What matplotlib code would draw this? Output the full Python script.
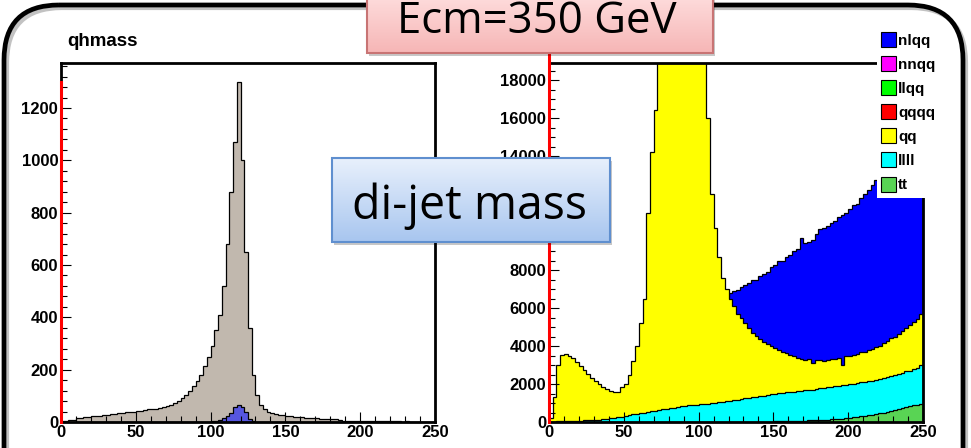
import numpy as np
import matplotlib
matplotlib.use("Agg")
import matplotlib.pyplot as plt
import matplotlib.patches as patches
from matplotlib.colors import LinearSegmentedColormap
from matplotlib.ticker import MultipleLocator

W, H = 971, 448
edges = np.linspace(0, 250, 101)  # 2.5 GeV bins, 0-250

# left pad: qhmass, all events and the small blue component
qh_all = [3, 4, 6, 9, 14, 16, 19, 21, 22, 23,
          24, 26, 27, 30, 32, 33, 35, 37, 39, 40,
          42, 43, 45, 48, 49, 51, 54, 57, 61, 65,
          72, 82, 92, 105, 120, 138, 155, 180, 215, 250,
          290, 350, 410, 520, 680, 880, 1070, 1300, 1000, 650,
          360, 180, 105, 65, 48, 40, 34, 30, 28, 26,
          24, 22, 21, 20, 18, 17, 16, 15, 14, 13,
          12, 12, 11, 10, 7, 5, 4, 4, 3, 3,
          3, 3, 2, 3, 2, 2, 2, 2, 2, 2,
          2, 1, 2, 1, 1, 1, 1, 1, 1, 1]
qh_sig = [0, 0, 0, 0, 0, 0, 0, 0, 0, 0,
          0, 0, 0, 0, 0, 0, 0, 0, 0, 0,
          0, 0, 0, 0, 0, 0, 0, 0, 0, 0,
          0, 0, 0, 0, 0, 0, 0, 0, 0, 1,
          2, 3, 6, 14, 24, 36, 56, 64, 58, 38,
          10, 2, 0, 0, 0, 0, 0, 0, 0, 0,
          0, 0, 0, 0, 0, 0, 0, 0, 0, 0,
          0, 0, 0, 0, 0, 0, 0, 0, 0, 0,
          0, 0, 0, 0, 0, 0, 0, 0, 0, 0,
          0, 0, 0, 0, 0, 0, 0, 0, 0, 0]

# right pad: di-jet mass per channel, histograms drawn overlaid
nlqq = [0, 0, 0, 0, 0, 0, 0, 0, 0, 0,
        0, 0, 0, 0, 0, 0, 0, 0, 0, 0,
        0, 0, 0, 0, 0, 0, 0, 0, 0, 0,
        0, 0, 0, 0, 0, 0, 0, 0, 0, 0,
        0, 0, 0, 0, 0, 0, 0, 6600, 6800, 6900,
        6950, 7100, 7200, 7300, 7450, 7500, 7700, 7800, 7900, 8150,
        8250, 8500, 8450, 8700, 8800, 9000, 9100, 9700, 9400, 9500,
        9600, 9900, 10150, 10200, 10300, 10500, 10600, 10800, 10900, 11000,
        11200, 11400, 11500, 11800, 12000, 12200, 12500, 12750, 13000, 13200,
        13400, 13600, 13800, 14000, 14200, 14400, 14600, 14800, 15000, 15200]
qq = [200, 1300, 3000, 3550, 3600, 3500, 3350, 3150, 2950, 2750,
      2550, 2300, 2150, 2000, 1850, 1750, 1650, 1580, 1600, 1850,
      2000, 2500, 3200, 4000, 5200, 6500, 11000, 14200, 16400, 19500,
      21000, 22500, 24000, 25000, 25500, 25800, 25500, 24800, 23800, 22500,
      21000, 19500, 16000, 12000, 10200, 8700, 7600, 7000, 6500, 6100,
      5700, 5450, 5200, 4950, 4700, 4550, 4350, 4200, 4100, 4000,
      3900, 3800, 3700, 3650, 3550, 3450, 3350, 3300, 3250, 3300,
      3100, 3250, 3250, 3200, 3250, 3300, 3300, 3350, 3000, 3450,
      3500, 3550, 3600, 3700, 3700, 3800, 3850, 3950, 4000, 4150,
      4250, 4400, 4500, 4650, 4800, 4950, 5100, 5250, 5400, 5700]
llll = [0, 20, 40, 50, 55, 60, 65, 70, 75, 80,
        85, 90, 100, 130, 150, 170, 190, 210, 260, 280,
        330, 350, 400, 420, 450, 500, 540, 560, 600, 620,
        660, 690, 720, 750, 780, 820, 860, 880, 900, 920,
        930, 950, 960, 980, 1000, 1040, 1060, 1100, 1120, 1150,
        1180, 1220, 1240, 1270, 1300, 1330, 1360, 1380, 1420, 1450,
        1470, 1510, 1540, 1560, 1590, 1600, 1630, 1650, 1670, 1690,
        1700, 1740, 1780, 1800, 1830, 1860, 1880, 1900, 1930, 1960,
        1990, 2010, 2050, 2080, 2110, 2140, 2170, 2210, 2250, 2300,
        2350, 2420, 2480, 2530, 2600, 2660, 2700, 2780, 2850, 3000]
tt = [0, 0, 0, 0, 0, 0, 0, 0, 0, 0,
      0, 0, 0, 0, 0, 0, 0, 0, 0, 0,
      0, 0, 0, 0, 0, 0, 0, 0, 0, 0,
      0, 0, 0, 0, 0, 0, 0, 0, 0, 0,
      0, 0, 0, 0, 0, 0, 0, 0, 0, 0,
      0, 0, 0, 0, 0, 10, 15, 20, 20, 25,
      30, 30, 35, 40, 45, 50, 55, 60, 70, 80,
      90, 100, 110, 120, 130, 140, 150, 165, 180, 195,
      215, 240, 265, 290, 320, 350, 390, 420, 450, 490,
      530, 580, 620, 670, 720, 780, 830, 880, 920, 960]

legend_names = ["nlqq", "nnqq", "llqq", "qqqq", "qq", "llll", "tt"]
legend_colors = ["#0000ff", "#ff00ff", "#00ff00", "#ff0000", "#ffff00", "#00ffff", "#59d454"]

plt.rcParams["font.family"] = ["Liberation Sans", "DejaVu Sans"]
plt.rcParams["font.weight"] = "bold"

fig = plt.figure(figsize=(W / 100, H / 100), dpi=100)


def px_axes(x0, y0, x1, y1, **kw):
    return fig.add_axes([x0 / W, 1 - y1 / H, (x1 - x0) / W, (y1 - y0) / H], **kw)


def style_pad(ax, ymax, ymajor, yminor):
    ax.set_xlim(0, 250)
    ax.set_ylim(0, ymax)
    ax.xaxis.set_major_locator(MultipleLocator(50))
    ax.xaxis.set_minor_locator(MultipleLocator(10))
    ax.yaxis.set_major_locator(MultipleLocator(ymajor))
    ax.yaxis.set_minor_locator(MultipleLocator(yminor))
    ax.tick_params(which="both", direction="in", top=False, right=False,
                   width=0.8, labelsize=12, pad=2)
    ax.tick_params(which="major", length=7.5)
    ax.tick_params(which="minor", length=4)
    for lab in ax.get_xticklabels() + ax.get_yticklabels():
        lab.set_fontweight("bold")
    for s in ax.spines.values():
        s.set_linewidth(2)


def hist(ax, values, color, z):
    ax.stairs(values, edges, fill=True, facecolor=color, edgecolor="black",
              linewidth=0.9, zorder=z)


# left pad
axl = px_axes(61, 63, 435, 422)
hist(axl, qh_all, "#c1b8ae", 1)
hist(axl, qh_sig, "#5656e0", 1.1)
style_pad(axl, 1372, 200, 40)
axl.plot([0, 0], [0, max(qh_all)], color="red", lw=2.2, clip_on=False, zorder=4)
fig.text(67 / W, 1 - 46 / H, "qhmass", fontsize=13.5, fontweight="bold", va="baseline")

# right pad
axr = px_axes(549, 63, 923, 422)
hist(axr, nlqq, legend_colors[0], 1)
hist(axr, qq, legend_colors[4], 1.1)
hist(axr, llll, legend_colors[5], 1.2)
hist(axr, tt, legend_colors[6], 1.3)
style_pad(axr, 18900, 2000, 500)
axr.plot([0, 0], [0, max(qq)], color="red", lw=2.2, clip_on=False, zorder=4)

# overlay in pixel coordinates: frame, legend and the two labels
ov = fig.add_axes([0, 0, 1, 1], zorder=10)
ov.patch.set_alpha(0)
ov.axis("off")

ov.add_patch(patches.FancyBboxPatch((7, 8), 959, 520, boxstyle="round,pad=0,rounding_size=55",
                                    fill=False, lw=3, ec="#9a9a9a", alpha=0.6))
ov.add_patch(patches.FancyBboxPatch((4, 5), 959, 520, boxstyle="round,pad=0,rounding_size=55",
                                    fill=False, lw=3.4, ec="black"))

# legend
ov.add_patch(patches.Rectangle((877, 27), 68, 171, fc="white", ec="none"))
for i, (name, col) in enumerate(zip(legend_names, legend_colors)):
    yc = 39.5 + i * 24.1
    ov.add_patch(patches.Rectangle((881, yc - 7.5), 15, 15, fc=col, ec="black", lw=0.8))
    ov.text(898, yc + 1, name, fontsize=11, fontweight="bold", va="center", ha="left")


def grad_box(x0, y0, x1, y1, top, bottom, edge):
    ov.add_patch(patches.Rectangle((x0 + 2, y0 + 3), x1 - x0, y1 - y0, fc="black",
                                   alpha=0.22, lw=0))
    frame = patches.Rectangle((x0, y0), x1 - x0, y1 - y0, fc="none", ec=edge, lw=1.5, zorder=3)
    ov.add_patch(frame)
    cmap = LinearSegmentedColormap.from_list("fade", [top, bottom])
    im = ov.imshow(np.linspace(0, 1, 64)[:, None], extent=(x0, x1, y1, y0), cmap=cmap,
                   aspect="auto", zorder=2)
    im.set_clip_path(frame)


grad_box(367, -10, 713, 53, "#ffe0e0", "#f6b6b6", "#c87474")
ov.text(537, 33, "Ecm=350 GeV", fontsize=31.5, family="Open Sans", fontweight="normal",
        ha="center", va="baseline", zorder=5)

grad_box(332, 158, 610, 242, "#e8f0fc", "#a8c6ef", "#5f8fcf")
ov.text(470, 219, "di-jet mass", fontsize=33.5, family="Open Sans", fontweight="normal",
        ha="center", va="baseline", zorder=5)

ov.set_xlim(0, W)
ov.set_ylim(H, 0)

fig.savefig("out.png", dpi=100)
